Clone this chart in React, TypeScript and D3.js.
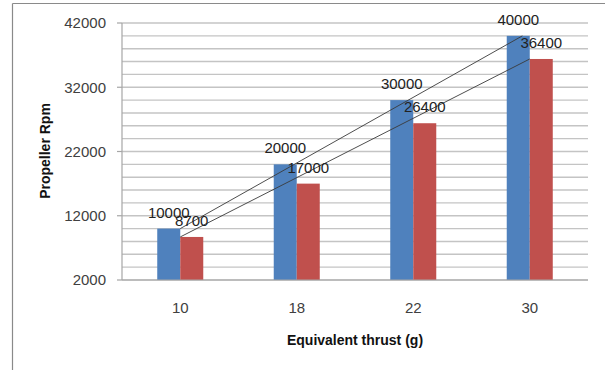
import React from "react";
import * as d3 from "d3";

// Equivalent thrust categories (g)
const categories: string[] = ["10", "18", "22", "30"];
// Propeller rpm, two series per category
const seriesA: number[] = [10000, 20000, 30000, 40000];
const seriesB: number[] = [8700, 17000, 26400, 36400];
const seriesColors: string[] = ["#4F81BD", "#C0504D"];
// Value axis
const yTicks: number[] = [2000, 12000, 22000, 32000, 42000];
const yGridStep = 2000;

const W = 605;
const H = 370;
const FONT = "'Liberation Sans', Arial, sans-serif";

export default function App() {
  const plot = { left: 122, right: 588, top: 23, bottom: 280 };

  const x = d3
    .scaleBand<string>()
    .domain(categories)
    .range([plot.left, plot.right])
    .paddingInner(0.605)
    .paddingOuter(0.3025);

  const inner = d3
    .scaleBand<number>()
    .domain([0, 1])
    .range([0, x.bandwidth()]);

  const y = d3.scaleLinear().domain([2000, 42000]).range([plot.bottom, plot.top]);

  const gridValues = d3.range(2000, 42000 + 1, yGridStep);
  const series = [seriesA, seriesB];

  // connecting lines across the first and last categories
  const first = categories[0];
  const last = categories[categories.length - 1];
  const bw = inner.bandwidth();
  const upper = d3.line()([
    [x(first)! + inner(0)! + bw, y(seriesA[0])],
    [x(last)! + inner(0)! + bw * 0.68, y(seriesA[seriesA.length - 1])],
  ]);
  const lower = d3.line()([
    [x(first)! + inner(1)!, y(seriesB[0])],
    [x(last)! + inner(1)!, y(seriesB[seriesB.length - 1])],
  ]);

  return (
    <svg
      width={W}
      height={H}
      style={{ position: "absolute", left: 0, top: 0, background: "#fff" }}
      fontFamily={FONT}
    >
      {/* outer frame */}
      <line x1={12.5} y1={3.5} x2={W} y2={3.5} stroke="#8a8a8a" strokeWidth={1.2} />
      <line x1={12.5} y1={3.5} x2={12.5} y2={H} stroke="#8a8a8a" strokeWidth={1.2} />

      {/* gridlines */}
      {gridValues.map((v) => (
        <line
          key={v}
          x1={plot.left}
          x2={plot.right}
          y1={y(v)}
          y2={y(v)}
          stroke="#c4c4c4"
          strokeWidth={1.4}
        />
      ))}

      {/* value axis */}
      <line x1={plot.left} x2={plot.left} y1={plot.top} y2={plot.bottom} stroke="#a6a6a6" strokeWidth={1.2} />
      {yTicks.map((v) => (
        <g key={v}>
          <line x1={plot.left - 5} x2={plot.left} y1={y(v)} y2={y(v)} stroke="#a6a6a6" strokeWidth={1.2} />
          <text
            x={plot.left - 16}
            y={y(v)}
            dy="0.35em"
            textAnchor="end"
            fontSize={15}
            fill="#404040"
          >
            {v}
          </text>
        </g>
      ))}

      {/* bars */}
      {categories.map((c, i) => (
        <g key={c}>
          {series.map((s, k) => (
            <rect
              key={k}
              x={x(c)! + inner(k)!}
              y={y(s[i])}
              width={bw}
              height={plot.bottom - y(s[i])}
              fill={seriesColors[k]}
            />
          ))}
        </g>
      ))}

      {/* category axis */}
      <line x1={plot.left} x2={plot.right} y1={plot.bottom} y2={plot.bottom} stroke="#a6a6a6" strokeWidth={1.2} />
      {categories.map((c) => (
        <text
          key={c}
          x={x(c)! + x.bandwidth() / 2}
          y={313}
          textAnchor="middle"
          fontSize={15}
          fill="#404040"
        >
          {c}
        </text>
      ))}

      {/* connecting lines */}
      <path d={upper!} stroke="#3a3a3a" strokeWidth={0.9} fill="none" />
      <path d={lower!} stroke="#3a3a3a" strokeWidth={0.9} fill="none" />

      {/* data labels */}
      {categories.map((c, i) => (
        <g key={c}>
          {series.map((s, k) => (
            <text
              key={k}
              x={x(c)! + inner(k)! + bw / 2}
              y={y(s[i]) - 11}
              textAnchor="middle"
              fontSize={15}
              fill="#222"
            >
              {s[i]}
            </text>
          ))}
        </g>
      ))}

      {/* axis titles */}
      <text
        transform={`translate(50,151) rotate(-90)`}
        textAnchor="middle"
        fontSize={14}
        fontWeight="bold"
        fill="#111"
      >
        Propeller Rpm
      </text>
      <text x={355} y={345} textAnchor="middle" fontSize={14} fontWeight="bold" fill="#111">
        Equivalent thrust (g)
      </text>
    </svg>
  );
}
